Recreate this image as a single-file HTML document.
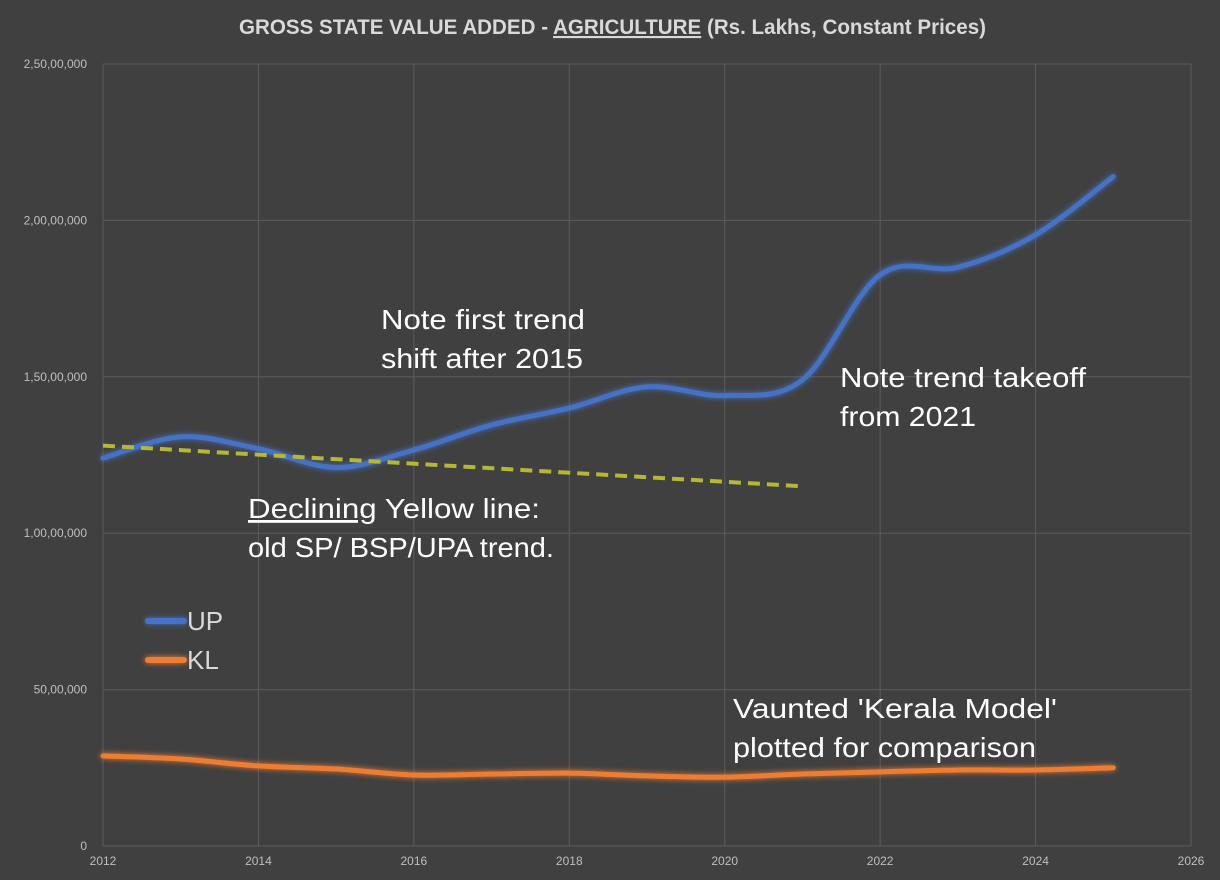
<!DOCTYPE html>
<html><head><meta charset="utf-8">
<style>
html,body{margin:0;padding:0;background:#404040;}
svg{display:block;font-family:"Liberation Sans",sans-serif;}
</style></head>
<body>
<svg id="chart" width="1220" height="880" viewBox="0 0 1220 880">
<defs>
<filter id="glow" filterUnits="userSpaceOnUse" x="0" y="0" width="1220" height="880">
<feGaussianBlur in="SourceGraphic" stdDeviation="3" result="b"/>
<feMerge><feMergeNode in="b"/><feMergeNode in="SourceGraphic"/></feMerge>
</filter>
</defs>
<rect width="1220" height="880" fill="#404040"/>
<text x="239" y="34" textLength="747" lengthAdjust="spacingAndGlyphs" fill="#d9d9d9" font-size="21" font-weight="bold">GROSS STATE VALUE ADDED - <tspan text-decoration="underline">AGRICULTURE</tspan> (Rs. Lakhs, Constant Prices)</text>
<g id="grid"></g>
<g id="axes"></g>
<g id="series"></g>
<g fill="#ffffff" font-size="28">
<text x="381" y="329" textLength="204" lengthAdjust="spacingAndGlyphs">Note first trend</text>
<text x="381" y="368" textLength="202" lengthAdjust="spacingAndGlyphs">shift after 2015</text>
<text x="840" y="387" textLength="246" lengthAdjust="spacingAndGlyphs">Note trend takeoff</text>
<text x="840" y="426" textLength="136" lengthAdjust="spacingAndGlyphs">from 2021</text>
<text x="248" y="518" textLength="292" lengthAdjust="spacingAndGlyphs"><tspan text-decoration="underline">Declining</tspan> Yellow line:</text>
<text x="248" y="557" textLength="306" lengthAdjust="spacingAndGlyphs">old SP/ BSP/UPA trend.</text>
<text x="733" y="718" textLength="324" lengthAdjust="spacingAndGlyphs">Vaunted 'Kerala Model'</text>
<text x="733" y="757" textLength="303" lengthAdjust="spacingAndGlyphs">plotted for comparison</text>
</g>
<g>
<line x1="148" y1="621" x2="184" y2="621" stroke="#4472c4" stroke-width="6" stroke-linecap="round" filter="url(#glow)"/>
<text x="187" y="630" fill="#d9d9d9" font-size="26">UP</text>
<line x1="148" y1="660" x2="184" y2="660" stroke="#ed7d31" stroke-width="6" stroke-linecap="round" filter="url(#glow)"/>
<text x="187" y="669" fill="#d9d9d9" font-size="26">KL</text>
</g>
</svg>
<script>
const years = [2012,2013,2014,2015,2016,2017,2018,2019,2020,2021,2022,2023,2024,2025];
const upValues = [12400000,13080000,12700000,12100000,12660000,13460000,14000000,14680000,14400000,14900000,18260000,18500000,19540000,21400000];
const klValues = [2880000,2780000,2560000,2460000,2270000,2300000,2330000,2240000,2200000,2300000,2370000,2430000,2430000,2500000];
const trendYears = [2012,2021];
const trendValues = [12800000,11500000];
const xTicks = [2012,2014,2016,2018,2020,2022,2024,2026];
const yTicks = [0,5000000,10000000,15000000,20000000,25000000];
const yTickLabels = ["0","50,00,000","1,00,00,000","1,50,00,000","2,00,00,000","2,50,00,000"];

const X0=103,X1=1191,Y0=846,Y1=64;
const xs = v => X0+(v-2012)/(2026-2012)*(X1-X0);
const ys = v => Y0-(v/25000000)*(Y0-Y1);
const NS='http://www.w3.org/2000/svg';
const grid=document.getElementById('grid'), axes=document.getElementById('axes'), series=document.getElementById('series');
function mk(tag,attrs,parent){const e=document.createElementNS(NS,tag);for(const k in attrs)e.setAttribute(k,attrs[k]);parent.appendChild(e);return e;}

yTicks.forEach((t,i)=>{
  const g=mk('line',{x1:X0,x2:X1,y1:ys(t),y2:ys(t),stroke:'#5c5c5c','stroke-width':1},grid);
  
  
  const l=mk('text',{x:X0-16,y:ys(t)+4,'text-anchor':'end',fill:'#bfbfbf','font-size':12},axes);
  l.textContent=yTickLabels[i];
  
  
});
xTicks.forEach(t=>{
  const g=mk('line',{x1:xs(t),x2:xs(t),y1:Y1,y2:Y0,stroke:'#5c5c5c','stroke-width':1},grid);
  
  
  const l=mk('text',{x:xs(t),y:Y0+19,'text-anchor':'middle',fill:'#bfbfbf','font-size':12},axes);
  l.textContent=String(t);
  
  
});

function smooth(pts){
  let d='M'+pts[0][0]+','+pts[0][1];
  for(let i=0;i<pts.length-1;i++){
    const p0=pts[Math.max(0,i-1)],p1=pts[i],p2=pts[i+1],p3=pts[Math.min(pts.length-1,i+2)];
    const c1=[p1[0]+(p2[0]-p0[0])/6,p1[1]+(p2[1]-p0[1])/6];
    const c2=[p2[0]-(p3[0]-p1[0])/6,p2[1]-(p3[1]-p1[1])/6];
    d+=' C'+c1+' '+c2+' '+p2;
  }
  return d;
}
const up=mk('path',{d:smooth(years.map((y,i)=>[xs(y),ys(upValues[i])])),fill:'none',stroke:'#4472c4','stroke-width':5,'stroke-linecap':'round',filter:'url(#glow)'},series);


const kl=mk('path',{d:smooth(years.map((y,i)=>[xs(y),ys(klValues[i])])),fill:'none',stroke:'#ed7d31','stroke-width':5,'stroke-linecap':'round',filter:'url(#glow)'},series);


const tr=mk('line',{x1:xs(trendYears[0]),y1:ys(trendValues[0]),x2:xs(trendYears[1]),y2:ys(trendValues[1]),stroke:'#b5b832','stroke-width':4,'stroke-dasharray':'12,7'},series);


</script>
</body></html>
